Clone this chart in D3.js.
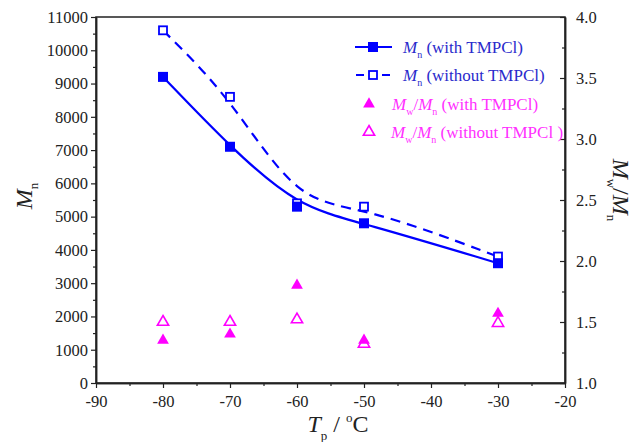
<!DOCTYPE html>
<html><head><meta charset="utf-8">
<script src="https://cdn.jsdelivr.net/npm/d3@7"></script>
<style>body{margin:0;background:#fff}svg{display:block}</style>
</head><body><svg id="c" width="634" height="442"></svg>
<script>
const temps = [-80, -70, -60, -50, -30];
const mnWith = [9200, 7100, 5300, 4800, 3600];
const mnWithout = [10600, 8600, 5400, 5300, 3800];
const pdiWith = [1.35, 1.40, 1.80, 1.35, 1.57];
const pdiWithout = [1.50, 1.50, 1.52, 1.32, 1.49];
const xTicks = [-90, -80, -70, -60, -50, -40, -30, -20];
const yLeftTicks = [0,1000,2000,3000,4000,5000,6000,7000,8000,9000,10000,11000];
const yRightTicks = [1.0,1.5,2.0,2.5,3.0,3.5,4.0];

const FONT = "Liberation Serif";
const svg = d3.select("#c").attr("font-family",FONT);
const L=96,R=565,T=17,B=383;
const x = d3.scaleLinear().domain([-90,-20]).range([L,R]);
const yL = d3.scaleLinear().domain([0,11000]).range([B,T]);
const yR = d3.scaleLinear().domain([1,4]).range([B,T]);
const BLUE="#0000ff", PINK="#ff00ff";

svg.append("rect").attr("x",L).attr("y",T).attr("width",R-L).attr("height",B-T).attr("fill","none").attr("stroke","#222").attr("stroke-width",1.5);

const gx = svg.append("g").attr("transform",`translate(0,${B})`)
  .call(d3.axisBottom(x).tickValues(xTicks).tickFormat(d=>String(d)).tickSize(5).tickSizeOuter(0));
svg.append("g").attr("transform",`translate(0,${B})`)
  .call(d3.axisBottom(x).tickValues(d3.range(-85,-20,10)).tickFormat("").tickSize(3).tickSizeOuter(0));
const gl = svg.append("g").attr("transform",`translate(${L},0)`)
  .call(d3.axisLeft(yL).tickValues(yLeftTicks).tickFormat(d=>String(d)).tickSize(5).tickSizeOuter(0));
svg.append("g").attr("transform",`translate(${L},0)`)
  .call(d3.axisLeft(yL).tickValues(d3.range(500,11000,1000)).tickFormat("").tickSize(3).tickSizeOuter(0));
const gr = svg.append("g").attr("transform",`translate(${R},0)`)
  .call(d3.axisRight(yR).tickValues(yRightTicks).tickFormat(d3.format(".1f")).tickSize(-5).tickSizeOuter(0));
svg.append("g").attr("transform",`translate(${R},0)`)
  .call(d3.axisRight(yR).tickValues(d3.range(1.25,4,0.5)).tickFormat("").tickSize(-3).tickSizeOuter(0));

svg.selectAll("g").attr("font-family",FONT);
svg.selectAll(".domain").attr("stroke","#222").attr("stroke-width",1.5);
svg.selectAll(".tick line").attr("stroke","#222").attr("stroke-width",1.2);
svg.selectAll(".tick text").attr("font-size",16.5).attr("fill","#222").attr("font-family",FONT);
gx.selectAll(".tick text").attr("dy","0.95em");
gl.selectAll(".tick text").attr("x",-8);
gr.selectAll(".tick text").attr("x",11);

const line = d3.line().x((d,i)=>x(temps[i])).y(d=>yL(d)).curve(d3.curveBasis);
svg.append("path").attr("d",line(mnWith)).attr("fill","none").attr("stroke",BLUE).attr("stroke-width",2.2);
svg.append("path").attr("d",line(mnWithout)).attr("fill","none").attr("stroke",BLUE).attr("stroke-width",2.2).attr("stroke-dasharray","10,7");

const S=10;
svg.selectAll(".sqo").data(mnWithout).join("rect").attr("x",(d,i)=>x(temps[i])-S/2+1).attr("y",d=>yL(d)-S/2+1)
  .attr("width",S-2).attr("height",S-2).attr("fill","#fff").attr("stroke",BLUE).attr("stroke-width",1.8);
svg.selectAll(".sqf").data(mnWith).join("rect").attr("x",(d,i)=>x(temps[i])-S/2).attr("y",d=>yL(d)-S/2)
  .attr("width",S).attr("height",S).attr("fill",BLUE);

const tri = d3.symbol().type(d3.symbolTriangle).size(60);
const triO = d3.symbol().type(d3.symbolTriangle).size(55);
svg.selectAll(".to").data(pdiWithout).join("path").attr("d",triO)
  .attr("transform",(d,i)=>`translate(${x(temps[i])},${yR(d)})`).attr("fill","none").attr("stroke",PINK).attr("stroke-width",1.6);
svg.selectAll(".tf").data(pdiWith).join("path").attr("d",tri)
  .attr("transform",(d,i)=>`translate(${x(temps[i])},${yR(d)})`).attr("fill",PINK);

const tl = svg.append("text").attr("transform","translate(32,196) rotate(-90)").attr("text-anchor","middle").attr("font-size",24).attr("fill","#222").attr("font-family",FONT);
tl.append("tspan").attr("font-style","italic").text("M");
tl.append("tspan").attr("font-size",13).attr("dy",6).text("n");

const tr = svg.append("text").attr("transform","translate(613,190) rotate(90)").attr("text-anchor","middle").attr("font-size",24).attr("fill","#222").attr("font-family",FONT);
tr.append("tspan").attr("font-style","italic").text("M");
tr.append("tspan").attr("font-size",13).attr("dy",6).text("w");
tr.append("tspan").attr("dy",-6).text("/");
tr.append("tspan").attr("font-style","italic").text("M");
tr.append("tspan").attr("font-size",13).attr("dy",6).text("n");

const tb = svg.append("text").attr("x",338).attr("y",432).attr("text-anchor","middle").attr("font-size",24).attr("fill","#222").attr("font-family",FONT);
tb.append("tspan").attr("font-style","italic").text("T");
tb.append("tspan").attr("font-size",13).attr("dy",8).text("p");
tb.append("tspan").attr("dy",-8).text(" / ");
tb.append("tspan").attr("font-size",13).attr("dy",-10).text("o");
tb.append("tspan").attr("dy",10).text("C");

const lg = svg.append("g");
const LBLUE="#2a2acc", LPINK="#ff30ff";
function legText(x0,y0,color,parts){
  const t = lg.append("text").attr("x",x0).attr("y",y0).attr("font-size",17).attr("fill",color).attr("font-family",FONT);
  parts.forEach(p=>{
    const s=t.append("tspan").text(p.t);
    if(p.i) s.attr("font-style","italic");
    if(p.sub){s.attr("font-size",10).attr("dy",5);}
    if(p.up) s.attr("dy",-5);
  });
}
lg.append("line").attr("x1",355).attr("x2",392).attr("y1",47).attr("y2",47).attr("stroke",BLUE).attr("stroke-width",2.2);
lg.append("rect").attr("x",368).attr("y",42).attr("width",10).attr("height",10).attr("fill",BLUE);
legText(403,53,LBLUE,[{t:"M",i:1},{t:"n",sub:1},{t:" (with TMPCl)",up:1}]);
lg.append("line").attr("x1",356).attr("x2",392).attr("y1",75).attr("y2",75).attr("stroke",BLUE).attr("stroke-width",2.2).attr("stroke-dasharray","8,5");
lg.append("rect").attr("x",369).attr("y",71).attr("width",8).attr("height",8).attr("fill","#fff").attr("stroke",BLUE).attr("stroke-width",1.8);
legText(403,81,LBLUE,[{t:"M",i:1},{t:"n",sub:1},{t:" (without TMPCl)",up:1}]);
lg.append("path").attr("d",tri).attr("transform","translate(369,104)").attr("fill",PINK);
legText(392,110,LPINK,[{t:"M",i:1},{t:"w",sub:1},{t:"/",up:1},{t:"M",i:1},{t:"n",sub:1},{t:" (with TMPCl)",up:1}]);
lg.append("path").attr("d",triO).attr("transform","translate(369,132)").attr("fill","none").attr("stroke",PINK).attr("stroke-width",1.6);
legText(391,138,LPINK,[{t:"M",i:1},{t:"w",sub:1},{t:"/",up:1},{t:"M",i:1},{t:"n",sub:1},{t:" (without TMPCl )",up:1}]);
</script></body></html>
